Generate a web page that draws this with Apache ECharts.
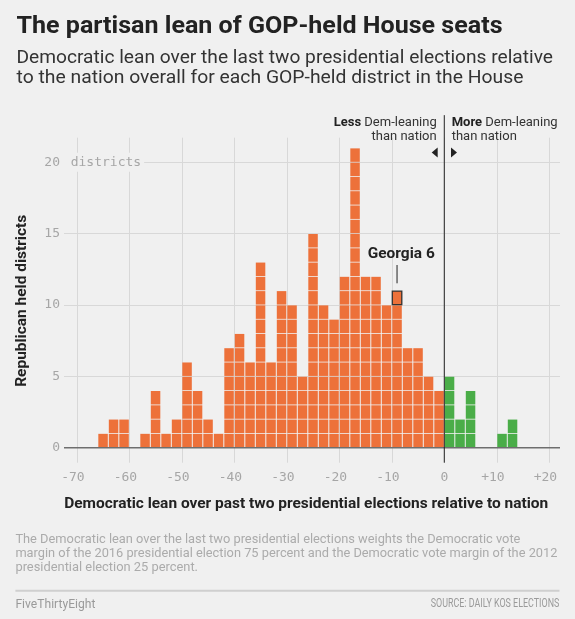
<!DOCTYPE html>
<html><head><meta charset="utf-8">
<script src="https://cdn.jsdelivr.net/npm/echarts@6/dist/echarts.min.js"></script>
<style>html,body{margin:0;padding:0;background:#f0f0f0;}#c{width:575px;height:619px;}</style>
</head><body><div id="c"></div>
<script>
// ---- data ----
const repBinStarts = [-66,-64,-62,-60,-58,-56,-54,-52,-50,-48,-46,-44,-42,-40,-38,-36,-34,-32,-30,-28,-26,-24,-22,-20,-18,-16,-14,-12,-10,-8,-6,-4,-2];
const repCounts    = [  1,  2,  2,  0,  1,  4,  1,  2,  6,  4,  2,  1,  7,  8,  6, 13,  6, 11, 10,  5, 15, 10,  9, 12, 21, 12, 12, 10, 11,  7,  7,  5,  4];
const demBinStarts = [0, 2, 4, 6, 8, 10, 12];
const demCounts    = [5, 2, 4, 0, 0, 1, 2];
const xTickValues = [-70,-60,-50,-40,-30,-20,-10,0,10,20];
const yTickValues = [0,5,10,15,20];
const binWidth = 2;
const highlightName = 'Georgia 6';
const highlightBin = -10;
const highlightCell = 10;

// ---- layout ----
const xMin = -72.44, xMax = 22.04, yMin = -1.05, yMax = 21.72;
const ORANGE = '#ed713a', GREEN = '#4aad48', BG = '#f0f0f0';
const SANS = 'Roboto, "Noto Sans", sans-serif';
const MONO = '"DejaVu Sans Mono", "Liberation Mono", monospace';

function cellRenderer(color) {
  return function (params, api) {
    const x0 = api.value(0), n = api.value(1);
    const children = [];
    for (let k = 0; k < n; k++) {
      const a = api.coord([x0, k + 1]);
      const b = api.coord([x0 + binWidth, k]);
      children.push({
        type: 'rect',
        shape: { x: a[0] + 0.5, y: a[1] + 0.4, width: b[0] - a[0] - 1, height: b[1] - a[1] - 0.8 },
        style: { fill: color }
      });
    }
    return { type: 'group', children };
  };
}

const chart = echarts.init(document.getElementById('c'), null, { renderer: 'canvas' });
chart.setOption({
  backgroundColor: BG,
  animation: false,
  grid: { left: 64, right: 15, top: 137.7, bottom: 156.3 },
  xAxis: {
    type: 'value', min: xMin, max: xMax,
    axisLine: { show: false },
    axisTick: { show: false, customValues: xTickValues },
    axisLabel: {
      customValues: xTickValues, margin: 8, color: '#a6a6a6', fontFamily: MONO, fontSize: 13,
      formatter: v => v === 0 ? '0' : (v > 0 ? '+' : '-') + Math.abs(v) + ' '
    },
    splitLine: { show: true, lineStyle: { color: '#d8d8d8', width: 1 } }
  },
  yAxis: {
    type: 'value', min: yMin, max: yMax,
    axisLine: { show: false },
    axisTick: { show: false, customValues: yTickValues },
    axisLabel: { customValues: yTickValues, margin: 4, color: '#a6a6a6', fontFamily: MONO, fontSize: 13 },
    splitLine: { show: true, lineStyle: { color: '#d8d8d8', width: 1 } }
  },
  series: [
    { type: 'custom', name: 'Less', renderItem: cellRenderer(ORANGE), z: 3,
      encode: { x: 0, y: 1 }, data: repBinStarts.map((x, i) => [x, repCounts[i]]) },
    { type: 'custom', name: 'More', renderItem: cellRenderer(GREEN), z: 3,
      encode: { x: 0, y: 1 }, data: demBinStarts.map((x, i) => [x, demCounts[i]]) },
    { type: 'custom', name: highlightName, z: 5, encode: { x: 0, y: 1 },
      data: [[highlightBin, highlightCell]],
      renderItem: function (params, api) {
        const a = api.coord([api.value(0), api.value(1) + 1]);
        const b = api.coord([api.value(0) + binWidth, api.value(1)]);
        return { type: 'rect', shape: { x: a[0] + 0.5, y: a[1] + 0.4, width: b[0] - a[0] - 1, height: b[1] - a[1] - 0.8 },
          style: { fill: ORANGE, stroke: '#333', lineWidth: 1.3 } };
      } },
    { type: 'line', name: 'baseline', data: [[xMin, 0], [xMax, 0]], symbol: 'none', z: 6, silent: true,
      lineStyle: { color: '#6e6e6e', width: 1.6 } },
    { type: 'line', name: 'divider', data: [[0, yMin], [0, 23.3]], symbol: 'none', z: 7, silent: true, clip: false,
      lineStyle: { color: '#222', width: 1 } }
  ]
});

const P = (x, y) => chart.convertToPixel({ gridIndex: 0 }, [x, y]);
const zeroTop = P(0, 0);
const gy20 = P(xMin, 20);
const gTop = P(highlightBin + binWidth / 2, highlightCell + 1);
const gLabel = P(-8.2, 13.57);
const zx = zeroTop[0];
const y20 = gy20[1];

const mctx = document.createElement('canvas').getContext('2d');
function measure(text, font) { mctx.font = font; return mctx.measureText(text).width; }

// text, optionally stretched horizontally to a target width
function txt(x, y, text, font, fill, align, targetW, extra) {
  const el = { type: 'text', x, y, silent: true,
    style: { text, font, fill, textAlign: align || 'left', textVerticalAlign: 'middle' } };
  if (targetW) el.scaleX = targetW / measure(text, font);
  return Object.assign(el, extra || {});
}

chart.setOption({
  graphic: [
    txt(16.5, 27.3, 'The partisan lean of GOP-held House seats', 'bold 23.5px ' + SANS, '#222', 'left', 486),
    txt(16.5, 58.3, 'Democratic lean over the last two presidential elections relative', '17.5px ' + SANS, '#333', 'left', 536.5),
    txt(16.5, 78.3, 'to the nation overall for each GOP-held district in the House', '17.5px ' + SANS, '#333', 'left', 507),
    // y axis title
    txt(22.5, 300.8, 'Republican held districts', 'bold 15px ' + SANS, '#222', 'center', 172, { rotation: Math.PI / 2 }),
    // x axis title
    txt(306.2, 504, 'Democratic lean over past two presidential elections relative to nation', 'bold 14.5px ' + SANS, '#222', 'center', 484),
    // "districts" unit label
    { type: 'text', x: gy20[0] - 2, y: y20, silent: true, z: 10,
      style: { text: 'districts', font: '13px ' + MONO, fill: '#a6a6a6', textAlign: 'left', textVerticalAlign: 'middle',
        backgroundColor: BG, padding: [3, 3, 3, 8.7] } },
    // divider annotations
    { type: 'text', x: zx - 7.6, y: 122.7, silent: true,
      style: { text: '{b|Less} Dem-leaning', textAlign: 'right', textVerticalAlign: 'middle',
        font: '13px ' + SANS, fill: '#333', rich: { b: { fontWeight: 'bold', fill: '#222', fontSize: 13, fontFamily: 'Roboto' } } } },
    txt(zx - 7.6, 136.7, 'than nation', '13px ' + SANS, '#333', 'right'),
    { type: 'text', x: zx + 7.4, y: 122.7, silent: true,
      style: { text: '{b|More} Dem-leaning', textAlign: 'left', textVerticalAlign: 'middle',
        font: '13px ' + SANS, fill: '#333', rich: { b: { fontWeight: 'bold', fill: '#222', fontSize: 13, fontFamily: 'Roboto' } } } },
    txt(zx + 7.4, 136.7, 'than nation', '13px ' + SANS, '#333', 'left'),
    { type: 'polygon', silent: true, shape: { points: [[zx - 6.6, y20 - 14.7], [zx - 6.6, y20 - 4.7], [zx - 12.6, y20 - 9.7]] }, style: { fill: '#222' } },
    { type: 'polygon', silent: true, shape: { points: [[zx + 6.7, y20 - 14.7], [zx + 6.7, y20 - 4.7], [zx + 12.7, y20 - 9.7]] }, style: { fill: '#222' } },
    // Georgia 6 annotation
    { type: 'line', silent: true, shape: { x1: gTop[0], y1: gTop[1] - 7.4, x2: gTop[0], y2: gTop[1] - 25.7 }, style: { stroke: '#222', lineWidth: 1 } },
    txt(gLabel[0], gLabel[1], highlightName, 'bold 15px ' + SANS, '#222', 'center', 67),
    // footnote
    txt(15.4, 539.5, 'The Democratic lean over the last two presidential elections weights the Democratic vote', '13px ' + SANS, '#ababab', 'left', 505),
    txt(15.4, 553.8, 'margin of the 2016 presidential election 75 percent and the Democratic vote margin of the 2012', '13px ' + SANS, '#ababab', 'left', 542),
    txt(15.4, 568, 'presidential election 25 percent.', '13px ' + SANS, '#ababab', 'left', 182.6),
    { type: 'line', silent: true, shape: { x1: 15.4, y1: 590.7, x2: 559.5, y2: 590.7 }, style: { stroke: '#cfcfcf', lineWidth: 2 } },
    txt(15.4, 604.3, 'FiveThirtyEight', '13px ' + SANS, '#9a9a9a', 'left', 80),
    txt(559.3, 604.3, 'SOURCE: DAILY KOS ELECTIONS', '12px ' + SANS, '#9a9a9a', 'right', 128.6)
  ]
});
</script>
</body></html>
